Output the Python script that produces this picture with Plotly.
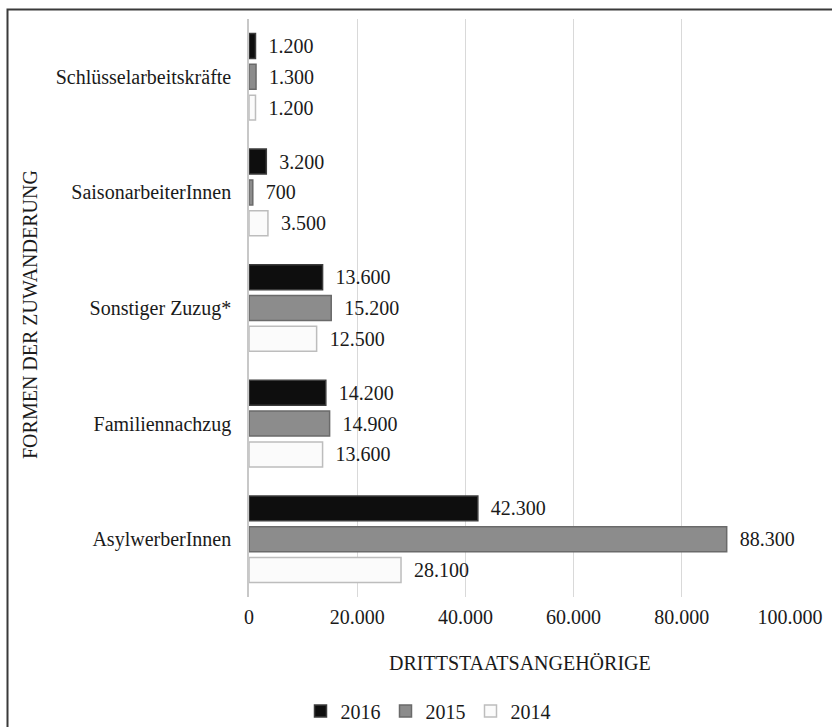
import plotly.graph_objects as go

categories = ["AsylwerberInnen", "Familiennachzug", "Sonstiger Zuzug*",
              "SaisonarbeiterInnen", "Schlüsselarbeitskräfte"]
years = ["2014", "2015", "2016"]
values_2014 = [28100, 13600, 12500, 3500, 1200]
values_2015 = [88300, 14900, 15200, 700, 1300]
values_2016 = [42300, 14200, 13600, 3200, 1200]
x_tickvals = [0, 20000, 40000, 60000, 80000, 100000]
x_ticktext = ["0", "20.000", "40.000", "60.000", "80.000", "100.000"]

series = {"2014": values_2014, "2015": values_2015, "2016": values_2016}
fills = {"2014": "#fbfbfb", "2015": "#8c8c8c", "2016": "#0e0e0e"}
lines = {"2014": "#bdbdbd", "2015": "#6a6a6a", "2016": "#3c3c3c"}

def fmt(v):
    return "  " + f"{v:,}".replace(",", ".")

FONT = "Liberation Serif"
FS = 20
W, H = 832, 727
ML, MR, MT, MB = 249, 42, 19, 130
PW = W - ML - MR
PH = H - MT - MB

fig = go.Figure()
for y in years:
    vals = series[y]
    fig.add_trace(go.Bar(
        y=categories, x=vals, orientation="h", name=y,
        marker=dict(color=fills[y], line=dict(color=lines[y], width=1.5)),
        text=[fmt(v) for v in vals], textposition="outside",
        textfont=dict(family=FONT, size=FS, color="#1a1a1a"),
        cliponaxis=False,
    ))

def px_x(px):
    return (px - ML) / PW

def px_y(py):
    return (H - MB - py) / PH

fig.update_layout(
    width=W, height=H,
    margin=dict(l=ML, r=MR, t=MT, b=MB, autoexpand=False),
    paper_bgcolor="white", plot_bgcolor="white",
    barmode="group", bargap=0.2, bargroupgap=0.19,
    font=dict(family=FONT, size=FS, color="#1a1a1a"),
    showlegend=True,
    legend=dict(orientation="h", traceorder="reversed",
                x=px_x(428), xanchor="center", y=px_y(711), yanchor="middle",
                font=dict(family=FONT, size=FS), itemwidth=30,
                bgcolor="rgba(0,0,0,0)"),
    xaxis=dict(range=[0, 100000], tickvals=x_tickvals, ticktext=x_ticktext,
               showgrid=True, gridcolor="#d9d9d9", gridwidth=1,
               zeroline=False, showline=False, ticks="", automargin=False,
               ticklabelstandoff=6,
               tickfont=dict(family=FONT, size=FS, color="#1a1a1a")),
    yaxis=dict(categoryorder="array", categoryarray=categories,
               showgrid=False, zeroline=False, showline=True,
               linecolor="#c8c8c8", linewidth=1.5, ticks="", automargin=False,
               ticklabelstandoff=12,
               tickfont=dict(family=FONT, size=FS, color="#1a1a1a")),
    annotations=[
        dict(text="DRITTSTAATSANGEHÖRIGE", xref="paper", yref="paper",
             x=px_x(520), y=px_y(663), xanchor="center", yanchor="middle",
             showarrow=False, font=dict(family=FONT, size=FS, color="#1a1a1a")),
        dict(text="FORMEN DER ZUWANDERUNG", xref="paper", yref="paper",
             x=px_x(30), y=px_y(315), xanchor="center", yanchor="middle",
             textangle=-90, showarrow=False,
             font=dict(family=FONT, size=FS, color="#1a1a1a")),
    ],
    shapes=[
        dict(type="rect", xref="paper", yref="paper",
             x0=px_x(7.5), y0=px_y(740), x1=px_x(850), y1=px_y(9.5),
             line=dict(color="#3a3a3a", width=2), fillcolor="rgba(0,0,0,0)",
             layer="above"),
    ],
)

fig.write_html("out.html",
               config={"displayModeBar": False},
               post_script="document.body.style.margin='0';document.body.style.overflow='hidden';")
